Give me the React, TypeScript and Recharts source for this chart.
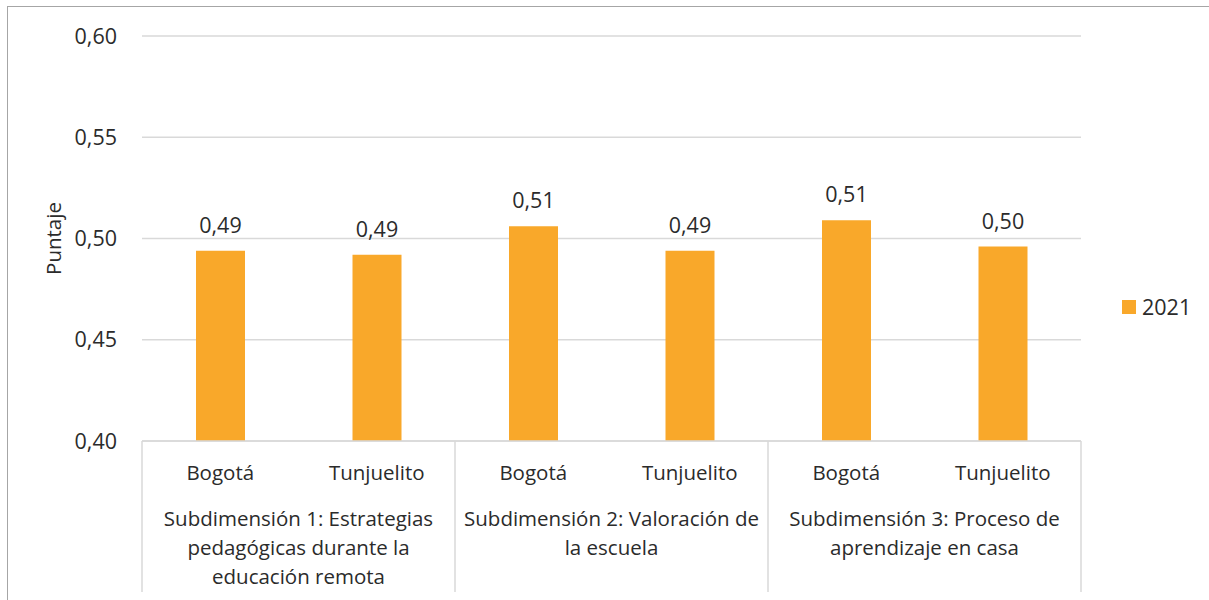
import { BarChart, Bar, XAxis, YAxis, CartesianGrid, LabelList } from "recharts";

const cities = ["Bogotá", "Tunjuelito", "Bogotá", "Tunjuelito", "Bogotá", "Tunjuelito"];
const values2021 = [0.494, 0.492, 0.506, 0.494, 0.509, 0.496];
const groupLabels = [
  ["Subdimensión 1: Estrategias", "pedagógicas durante la", "educación remota"],
  ["Subdimensión 2: Valoración de", "la escuela"],
  ["Subdimensión 3: Proceso de", "aprendizaje en casa"],
];
const yTicks = [0.4, 0.45, 0.5, 0.55, 0.6];
const seriesName = "2021";

const data = cities.map((c, i) => ({ city: c, value: values2021[i] }));

const FONT = "'Open Sans', sans-serif";
const TEXT = "#2b2b2b";
const LINE = "#d9d9d9";
const ORANGE = "#F9A82A";
const CAT_SIZE = 20.5;
const NUM_SIZE = 21.5;
const PLOT_LEFT = 142;
const PLOT_RIGHT = 128;
const CHART_W = 1209;
const BAND = (CHART_W - PLOT_LEFT - PLOT_RIGHT) / cities.length;

const fmt = (v: number) => v.toFixed(2).replace(".", ",");

function CategoryTick(props: any) {
  const { x, y, index, payload } = props;
  const top = y - 2; // axis line
  const isFirst = index % 2 === 0;
  const grp = groupLabels[Math.floor(index / 2)];
  return (
    <g>
      <text x={x} y={top + 32} dy="0.35em" textAnchor="middle" fill={TEXT} fontSize={CAT_SIZE} fontFamily={FONT}>
        {payload.value}
      </text>
      {isFirst && (
        <>
          <line x1={x - BAND / 2} x2={x - BAND / 2} y1={top} y2={top + 151} stroke={LINE} strokeWidth={1.5} />
          {grp.map((t, k) => (
            <text key={k} x={x + BAND / 2} y={top + 78 + k * 29} dy="0.35em" textAnchor="middle" fill={TEXT} fontSize={CAT_SIZE} fontFamily={FONT}>
              {t}
            </text>
          ))}
        </>
      )}
      {index === cities.length - 1 && (
        <line x1={x + BAND / 2} x2={x + BAND / 2} y1={top} y2={top + 151} stroke={LINE} strokeWidth={1.5} />
      )}
    </g>
  );
}

export default function App() {
  return (
    <>
      <div
        style={{
          position: "fixed",
          left: 7,
          top: 6,
          width: 1202,
          height: 594,
          borderTop: "1.5px solid #a6a6a6",
          borderLeft: "1.5px solid #a6a6a6",
          background: "#fff",
        }}
      />
      <div style={{ position: "fixed", left: 0, top: 0, width: CHART_W, height: 600 }}>
        <BarChart
          width={CHART_W}
          height={600}
          data={data}
          margin={{ top: 36, right: PLOT_RIGHT, bottom: 0, left: PLOT_LEFT - 60 }}
        >
          <CartesianGrid vertical={false} stroke={LINE} strokeWidth={1.5} />
          <XAxis
            dataKey="city"
            tickLine={false}
            axisLine={{ stroke: LINE, strokeWidth: 1.5 }}
            tickSize={0}
            tickMargin={2}
            interval={0}
            height={159}
            tick={<CategoryTick />}
          />
          <YAxis
            width={60}
            domain={[0.4, 0.6]}
            ticks={yTicks}
            tickFormatter={fmt}
            tickLine={false}
            axisLine={false}
            tickMargin={19}
            tick={{ fill: TEXT, fontSize: NUM_SIZE, fontFamily: FONT }}
            label={{
              content: (p: any) => {
                const vb = p.viewBox;
                const cx = vb.x - 28;
                const cy = vb.y + vb.height / 2;
                return (
                  <text x={cx} y={cy} dy="0.35em" textAnchor="middle" transform={`rotate(-90 ${cx} ${cy})`} fill={TEXT} fontSize={CAT_SIZE} fontFamily={FONT}>
                    Puntaje
                  </text>
                );
              },
            }}
          />
          <Bar dataKey="value" name={seriesName} fill={ORANGE} barSize={49} isAnimationActive={false}>
            <LabelList dataKey="value" position="top" offset={18} formatter={(v: any) => fmt(Number(v))} fill={TEXT} fontSize={NUM_SIZE} fontFamily={FONT} />
          </Bar>
        </BarChart>
        <div
          style={{
            position: "absolute",
            left: 1122,
            top: 292,
            display: "flex",
            alignItems: "center",
            fontFamily: FONT,
            fontSize: NUM_SIZE,
            color: TEXT,
          }}
        >
          <span style={{ display: "inline-block", width: 14, height: 14, background: ORANGE, marginRight: 6 }} />
          <span>{seriesName}</span>
        </div>
      </div>
    </>
  );
}
